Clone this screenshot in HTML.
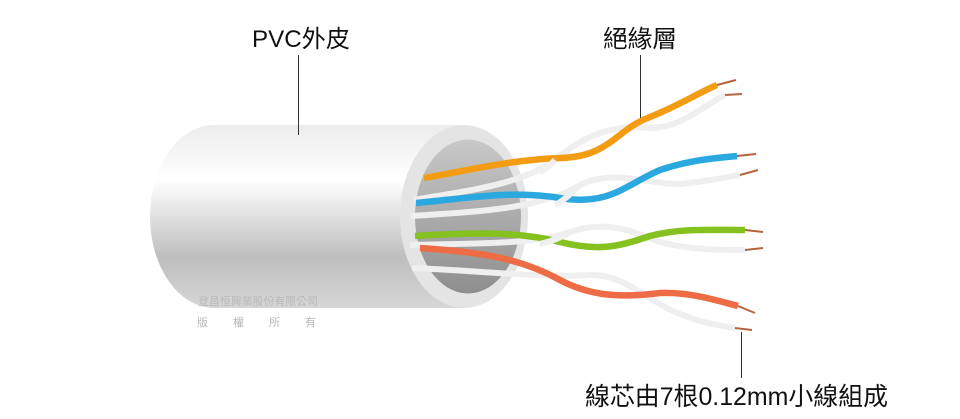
<!DOCTYPE html>
<html><head><meta charset="utf-8"><style>
html,body{margin:0;padding:0;background:#fff;width:960px;height:419px;overflow:hidden}
svg{display:block}
text{font-family:"Liberation Sans","Noto Sans CJK TC",sans-serif}
</style></head><body>
<svg width="960" height="419" viewBox="0 0 960 419" xmlns="http://www.w3.org/2000/svg">
<defs>
<linearGradient id="body" x1="0" y1="0" x2="0" y2="1">
<stop offset="0" stop-color="#ececec"/>
<stop offset="0.3" stop-color="#ffffff"/>
<stop offset="0.72" stop-color="#bebebe"/>
<stop offset="1" stop-color="#d6d6d6"/>
</linearGradient>
<linearGradient id="hole" x1="0" y1="0" x2="0" y2="1">
<stop offset="0" stop-color="#c8c8c8"/>
<stop offset="1" stop-color="#8e8e8e"/>
</linearGradient>
</defs>
<path d="M214,125 L464,125 L464,308 L214,308 A64,91.5 0 0 1 214,125 Z" fill="url(#body)"/>
<ellipse cx="464" cy="216.5" rx="64" ry="91.5" fill="#e4e4e4"/>
<ellipse cx="468" cy="216.5" rx="53" ry="77" fill="url(#hole)"/>
<g fill="none" stroke-linecap="butt">
<g stroke="#efefef" stroke-width="6">
<path d="M414,200 C470,190 520,185 555,160 C590,130 620,125 650,128 C680,128 700,108 725,95"/>
<path d="M411,216 C470,212 540,210 580,185 C615,168 650,185 680,184 C705,182 720,178 740,175"/>
<path d="M410,245 C480,243 530,245 570,232 C605,220 630,230 660,242 C690,250 720,250 745,250"/>
<path d="M412,268 C470,270 540,278 590,275 C625,274 645,300 680,314 C700,322 720,326 735,328"/>
</g>
<g stroke="#b5643f" stroke-width="2">
<path d="M717,85 L736,80"/><path d="M725,95 L742,94"/>
<path d="M737,156 L756,154"/><path d="M740,175 L758,170"/>
<path d="M745,230 L763,232"/><path d="M745,250 L763,248"/>
<path d="M738,306 L755,313"/><path d="M735,328 L752,330"/>
</g>
<path d="M424,178 C470,170 510,160 560,158 C610,157 615,130 650,117 C680,105 700,92 717,85" stroke="#f39c12" stroke-width="6.5"/>
<path d="M416,203 C470,198 510,190 560,198 C610,206 625,185 660,170 C690,160 715,158 737,156" stroke="#2ba8e0" stroke-width="6.5"/>
<path d="M415,236 C480,232 520,232 560,242 C600,252 620,246 650,236 C680,228 710,230 745,230" stroke="#86c21f" stroke-width="6.5"/>
<path d="M420,248 C480,252 520,258 560,280 C590,296 620,298 660,293 C690,292 715,300 738,306" stroke="#ee6c45" stroke-width="6.5"/>
<g stroke="#efefef" stroke-width="6">
<path d="M540,172 C548,168 552,163 555,160"/>
<path d="M555,205 C565,200 572,192 580,185"/>
<path d="M540,244 C550,242 560,238 570,232"/>
</g>
</g>
<g stroke="#333" stroke-width="1">
<line x1="298.5" y1="55" x2="298.5" y2="135"/>
<line x1="640.5" y1="55" x2="640.5" y2="118"/>
<line x1="741.5" y1="332" x2="741.5" y2="378"/>
</g>
<text x="252" y="47" font-size="24" fill="#111" textLength="98" lengthAdjust="spacingAndGlyphs">PVC外皮</text>
<text x="603" y="47" font-size="24" fill="#111" textLength="74" lengthAdjust="spacingAndGlyphs">絕緣層</text>
<text x="585" y="405" font-size="25" fill="#111" textLength="303" lengthAdjust="spacingAndGlyphs">線芯由7根0.12mm小線組成</text>
<text x="198" y="305" font-size="11" fill="#b8b8b8" textLength="120" lengthAdjust="spacingAndGlyphs">登昌恒興業股份有限公司</text>
<text x="197" y="326" font-size="11" fill="#b8b8b8">版</text>
<text x="233" y="326" font-size="11" fill="#b8b8b8">權</text>
<text x="269" y="326" font-size="11" fill="#b8b8b8">所</text>
<text x="305" y="326" font-size="11" fill="#b8b8b8">有</text>
</svg>
</body></html>
